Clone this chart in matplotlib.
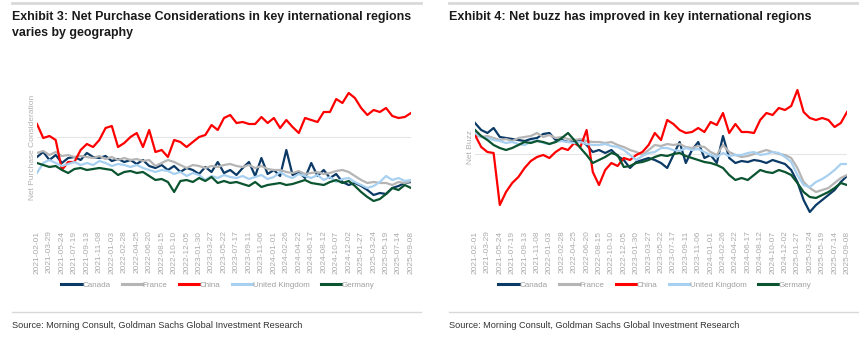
import matplotlib
matplotlib.use("Agg")
import matplotlib.pyplot as plt
import matplotlib.dates as mdates
import pandas as pd
from matplotlib.lines import Line2D

# 4-weekly observations, 2021-02-01 .. 2025-09-08
dates = pd.date_range("2021-02-01", periods=61, freq="28D")

countries = ["Canada", "France", "China", "United Kingdom", "Germany"]
colors = ["#0B3A66", "#B5B5B5", "#FF0000", "#A8D0F0", "#0B5430"]

# Exhibit 3: net purchase consideration (index, arbitrary units)
npc_canada = [-20, -15, -23, -18, -26, -21, -20, -23, -16, -20, -21, -19, -24, -22, -25, -23, -27, -23, -29, -31,
              -28, -33, -29, -35, -31, -33, -37, -30, -35, -25, -36, -33, -38, -31, -25, -39, -21, -37, -33, -39,
              -13, -38, -35, -41, -26, -39, -33, -41, -37, -45, -48, -46, -49, -53, -58, -56, -57, -51, -49, -46, -45]
npc_france = [-16, -14, -18, -15, -19, -18, -20, -19, -20, -21, -19, -22, -20, -23, -21, -23, -22, -24, -23, -29,
              -26, -23, -25, -28, -31, -28, -29, -31, -29, -30, -28, -27, -29, -30, -28, -31, -29, -32, -33, -33,
              -35, -36, -34, -37, -36, -35, -37, -36, -34, -33, -35, -39, -43, -46, -45, -46, -46, -48, -45, -46, -44]
npc_china = [13, -1, 1, -3, -33, -25, -25, -13, -7, -10, -3, 9, 11, -10, -6, 0, 4, -10, 7, -15,
             -13, -20, -3, -5, -10, -5, 0, 2, 12, 7, 19, 22, 14, 15, 13, 13, 20, 14, 19, 9,
             17, 10, 4, 19, 17, 15, 25, 25, 38, 34, 44, 39, 29, 22, 27, 25, 29, 21, 19, 20, 24]
npc_uk = [-36, -26, -23, -26, -29, -27, -25, -28, -26, -28, -24, -26, -29, -27, -28, -30, -28, -31, -33, -35,
          -33, -34, -37, -35, -39, -36, -38, -43, -39, -41, -38, -40, -41, -39, -42, -40, -38, -42, -40, -35,
          -39, -41, -37, -39, -41, -38, -43, -40, -45, -42, -41, -45, -48, -51, -49, -45, -39, -43, -41, -44, -43]
npc_germany = [-26, -28, -30, -29, -33, -36, -32, -31, -33, -32, -31, -32, -33, -38, -35, -34, -36, -35, -39, -43,
               -42, -45, -55, -44, -43, -45, -41, -44, -40, -46, -44, -46, -45, -47, -49, -45, -50, -48, -47, -46,
               -48, -47, -45, -43, -46, -47, -48, -45, -43, -46, -44, -49, -55, -60, -64, -62, -57, -51, -53, -48, -51]

# Exhibit 4: net buzz (index, arbitrary units)
buzz_canada = [31, 24, 21, 26, 17, 16, 15, 14, 13, 15, 16, 20, 21, 14, 14, 12, 13, 14, 9, 2,
               4, 1, 4, -2, -6, -14, -8, -6, -4, -6, -9, -14, -1, 12, -9, 4, 12, -4, -1, -9,
               18, -4, -9, -7, -8, -6, -7, -9, -6, -8, -10, -16, -28, -46, -58, -51, -46, -41, -36, -28, -22]
buzz_france = [19, 17, 18, 16, 14, 15, 13, 16, 17, 18, 21, 17, 19, 16, 17, 15, 14, 15, 13, 12,
               12, 11, 12, 9, 7, 4, 2, -1, 4, 9, 8, 10, 9, 10, 7, 6, 8, 7, 2, -1,
               9, 2, -1, -3, -2, 0, 2, 4, 2, 0, -1, -4, -14, -28, -34, -38, -36, -34, -29, -24, -21]
buzz_china = [19, 7, 2, 1, -51, -38, -29, -23, -14, -7, -3, -1, -4, 2, 6, 4, 11, 7, 24, -18,
              -31, -16, -9, -12, -4, -6, -1, 2, 9, 21, 14, 34, 30, 24, 21, 22, 26, 22, 32, 29,
              41, 21, 30, 22, 22, 21, 34, 41, 39, 46, 44, 48, 64, 42, 36, 34, 36, 34, 27, 31, 42]
buzz_uk = [21, 17, 16, 14, 13, 11, 12, 10, 9, 12, 14, 11, 10, 12, 13, 12, 11, 12, 10, 9,
           9, 10, 8, 7, 4, -1, -6, -2, 1, 2, 6, 6, 4, 3, 6, 4, 5, 2, -1, -3,
           1, -2, -1, -1, 1, 2, -1, 0, 2, 1, -3, -8, -21, -31, -33, -28, -25, -21, -16, -10, -10]
buzz_germany = [24, 18, 14, 9, 6, 4, 6, 9, 12, 11, 13, 12, 10, 12, 16, 21, 14, 6, -1, -9,
                -6, -3, 1, -1, -13, -12, -9, -8, -6, -3, -1, -2, 0, 1, -2, -4, -6, -8, -9, -11,
                -14, -21, -26, -24, -26, -21, -16, -18, -19, -16, -18, -21, -29, -38, -43, -44, -41, -38, -34, -29, -31]

npc_series = [npc_canada, npc_france, npc_china, npc_uk, npc_germany]
buzz_series = [buzz_canada, buzz_france, buzz_china, buzz_uk, buzz_germany]

W, H = 859, 337
plt.rcParams["font.family"] = ["Liberation Sans", "DejaVu Sans"]


def px(x0, y0, x1, y1):
    return [x0 / W, 1 - y1 / H, (x1 - x0) / W, (y1 - y0) / H]


def draw_panel(fig, rect, series, ylim, ylabel, label_y):
    ax = fig.add_axes(rect)
    for vals, c in zip(series, colors):
        ax.plot(dates, vals, color=c, lw=1.6, solid_joinstyle="round")
    ax.set_xlim(dates[0], dates[-1])
    ax.set_ylim(*ylim)
    ax.set_yticks([0])
    ax.yaxis.grid(True, color="#e6e6e6", lw=0.8)
    ax.tick_params(axis="y", length=0, labelleft=False)
    ax.set_xticks(dates[::2])
    ax.xaxis.set_major_formatter(mdates.DateFormatter("%Y-%m-%d"))
    ax.tick_params(axis="x", length=0, pad=4, labelsize=6, labelcolor="#ababab", rotation=90)
    for s in ax.spines.values():
        s.set_visible(False)
    ax.set_ylabel(ylabel, fontsize=6, color="#b0b0b0")
    ax.yaxis.set_label_coords(-0.002, label_y)
    ax.set_axisbelow(True)
    return ax


fig = plt.figure(figsize=(W / 100, H / 100), dpi=100)

ax1 = draw_panel(fig, px(37, 85, 411, 225), npc_series, (-88, 52), "Net Purchase Consideration", 0.557)
ax2 = draw_panel(fig, px(475, 80, 847, 225), buzz_series, (-71, 74), "Net Buzz", 0.54)

# titles
fig.text(12 / W, 1 - 11 / H, "Exhibit 3: Net Purchase Considerations in key international regions\nvaries by geography",
         fontsize=8.9, fontweight="bold", color="#1a1a1a", va="top", ha="left", linespacing=1.4)
fig.text(449 / W, 1 - 11 / H, "Exhibit 4: Net buzz has improved in key international regions",
         fontsize=9.0, fontweight="bold", color="#1a1a1a", va="top", ha="left")

# legends
handles = [Line2D([], [], color=c, lw=2.2) for c in colors]
for cx in (218 / W, 655 / W):
    fig.legend(handles, countries, loc="center", bbox_to_anchor=(cx, 1 - 285 / H), ncol=5, frameon=False,
               fontsize=5.8, handlelength=2.5, handletextpad=0.1, columnspacing=1.4,
               labelcolor="#a0a0a0")

# rules and source lines
for x0, x1 in ((12, 421), (449, 858)):
    fig.add_artist(Line2D([x0 / W, x1 / W], [1 - 3 / H, 1 - 3 / H], color="#d9d9d9", lw=2))
    fig.add_artist(Line2D([x0 / W, x1 / W], [1 - 312 / H, 1 - 312 / H], color="#d9d9d9", lw=1))
    fig.text(x0 / W, 1 - 326 / H, "Source: Morning Consult, Goldman Sachs Global Investment Research",
             fontsize=6.6, color="#333333", va="center", ha="left")

fig.savefig("out.png", dpi=100)
